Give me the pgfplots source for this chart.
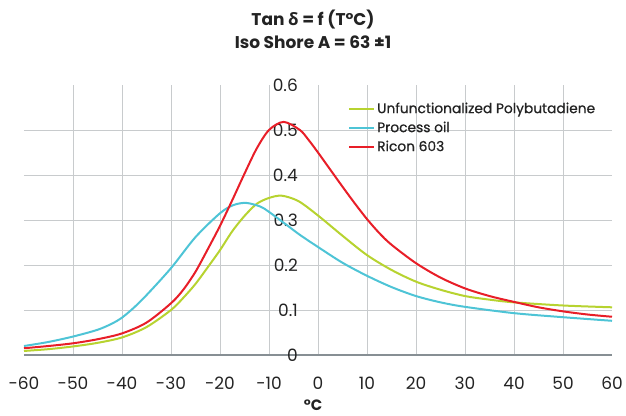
\documentclass[border=0pt]{standalone}
\usepackage{fontspec}
\setmainfont{Poppins}
\newfontfamily\gfont{Open Sans}
\newfontfamily\medfont{Poppins}[FakeBold=0.7]
\usepackage{pgfplots}
\pgfplotsset{compat=1.18}
\definecolor{cgreen}{RGB}{183,211,48}
\definecolor{ccyan}{RGB}{78,196,214}
\definecolor{cred}{RGB}{232,30,40}
\definecolor{cgrid}{RGB}{200,203,205}
\definecolor{caxis}{RGB}{135,143,148}
\definecolor{ctext}{RGB}{35,35,35}
\pgfplotstableread{
x y
-60 0.009
-55 0.013
-50 0.019
-45 0.027
-40 0.039
-35 0.062
-30 0.100
-27.5 0.127
-25 0.158
-22.5 0.195
-20 0.233
-17.5 0.275
-15 0.309
-12.5 0.336
-10 0.349
-7.4 0.354
-4 0.342
0 0.310
5 0.265
10 0.222
15 0.189
20 0.163
25 0.145
30 0.131
35 0.123
40 0.117
50 0.110
60 0.106
}\greendata
\pgfplotstableread{
x y
-60 0.020
-55 0.029
-50 0.041
-45 0.056
-42 0.070
-40 0.083
-37.5 0.106
-35 0.133
-30 0.193
-25 0.262
-20 0.315
-17.3 0.333
-14.7 0.338
-11.8 0.330
-10 0.318
-6.4 0.289
-3.7 0.267
0 0.240
5 0.205
10 0.176
15 0.151
20 0.131
25 0.117
30 0.107
40 0.093
50 0.084
60 0.076
}\cyandata
\pgfplotstableread{
x y
-60 0.015
-55 0.020
-50 0.026
-45 0.035
-40 0.048
-35 0.072
-30 0.115
-27.5 0.145
-25 0.185
-22.5 0.235
-20 0.287
-17.5 0.344
-15 0.403
-12.5 0.459
-10 0.500
-7 0.518
-3.7 0.500
-2 0.479
0 0.450
2.5 0.412
5 0.374
7.5 0.337
10 0.302
12.5 0.271
15 0.245
20 0.204
25 0.172
30 0.148
35 0.131
40 0.118
45 0.106
50 0.097
55 0.090
60 0.085
}\reddata
\begin{document}
\begin{tikzpicture}
\path[use as bounding box] (-24pt,-60pt) rectangle (602pt,355pt);
\begin{axis}[
  at={(0pt,0pt)}, anchor=south west,
  scale only axis, width=588pt, height=270pt,
  xmin=-60, xmax=60, ymin=0, ymax=0.6,
  xtick={-60,-50,...,60},
  ytick={0,0.1,0.2,0.3,0.4,0.5,0.6},
  minor xtick={-50,-40,...,50},
  minor ytick={0.1,0.2,0.3,0.4,0.5},
  xminorgrids=true, yminorgrids=true,
  xmajorgrids=false, ymajorgrids=false,
  minor grid style={cgrid, line width=1pt},
  major tick length=0pt, minor tick length=0pt,
  axis x line*=bottom, axis y line*=left,
  y axis line style={draw=none},
  x axis line style={caxis, line width=2.2pt},
  /pgf/number format/assume math mode=true,
  xticklabel style={font=\fontsize{17}{17}\selectfont, text=ctext, anchor=center, yshift=-28pt},
  yticklabel style={font=\fontsize{17}{17}\selectfont, text=ctext, anchor=east, inner sep=0pt, xshift=274pt},
  xlabel={°C},
  xlabel style={at={(axis description cs:0.4915,0)}, anchor=center, yshift=-50pt, font=\bfseries\fontsize{15}{15}\selectfont, text=ctext},
  title={Tan {\gfont δ} = f (T°C)\\Iso Shore A = 63 ±1},
  title style={align=center, at={(axis description cs:0.4915,1)}, anchor=center, yshift=50pt, font=\bfseries\fontsize{17}{23}\selectfont, text=ctext},
  legend style={at={(axis description cs:0.551,0.943)}, anchor=north west, draw=none, fill=none, font=\medfont\fontsize{13.8}{13.8}\selectfont, text=ctext, row sep=3pt, inner sep=0pt},
  legend cell align=left,
  legend image code/.code={\draw[#1, line width=2pt] (0pt,0pt) -- (25pt,0pt);},
  every axis plot/.append style={line width=2pt, no markers, smooth},
]
\addplot[cgreen] table[x=x,y=y] {\greendata};
\addlegendentry{Unfunctionalized Polybutadiene}
\addplot[ccyan] table[x=x,y=y] {\cyandata};
\addlegendentry{Process oil}
\addplot[cred] table[x=x,y=y] {\reddata};
\addlegendentry{Ricon 603}
\end{axis}
\end{tikzpicture}
\end{document}
